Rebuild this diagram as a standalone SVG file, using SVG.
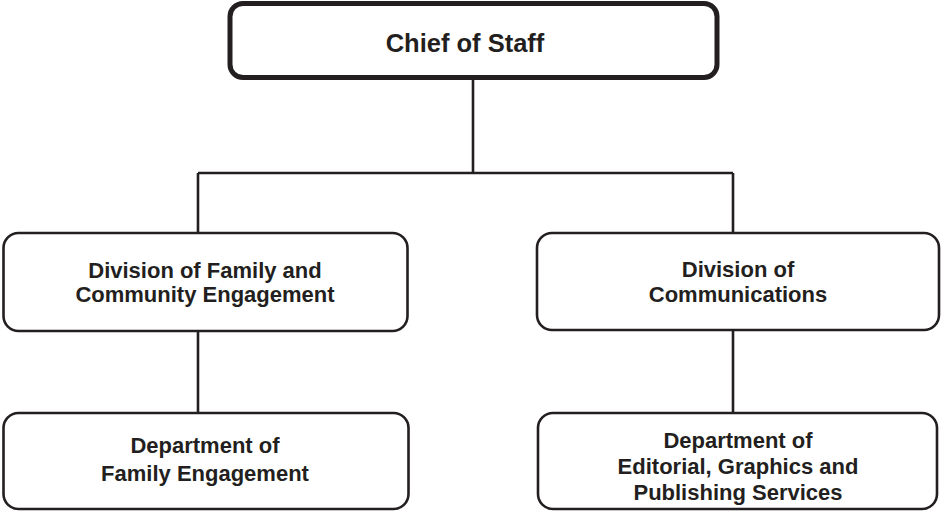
<svg xmlns="http://www.w3.org/2000/svg" width="941" height="511" viewBox="0 0 941 511">
<style>
.box{fill:#fff;stroke:#231f20;stroke-width:2.6}
.top{fill:#fff;stroke:#231f20;stroke-width:5}
.lbl{font-family:"Liberation Sans",Arial,sans-serif;font-weight:bold;font-size:22px;fill:#231f20;text-anchor:middle}
.big{font-size:25.5px}
.conn{fill:none;stroke:#231f20;stroke-width:2.6}
</style>
<rect width="941" height="511" fill="#fff"/>
<g id="connectors">
<path class="conn" d="M473 80V173M198 173H733M198 173V233M733 173V233M198 331V413M733 331V413"/>
</g>
<g id="chief">
<rect class="top" x="230" y="3.5" width="487" height="74" rx="13"/>
<text class="lbl big" x="465" y="52">Chief of Staff</text>
</g>
<g id="div-family">
<rect class="box" x="3.5" y="233" width="404" height="98" rx="15"/>
<text class="lbl" x="205" y="278">Division of Family and</text>
<text class="lbl" x="205" y="302">Community Engagement</text>
</g>
<g id="div-comm">
<rect class="box" x="537" y="233" width="402" height="97" rx="15"/>
<text class="lbl" x="738" y="277">Division of</text>
<text class="lbl" x="738" y="302">Communications</text>
</g>
<g id="dept-family">
<rect class="box" x="3.5" y="413" width="405" height="96" rx="15"/>
<text class="lbl" x="205" y="453">Department of</text>
<text class="lbl" x="205" y="481">Family Engagement</text>
</g>
<g id="dept-editorial">
<rect class="box" x="538" y="413" width="399" height="96" rx="15"/>
<text class="lbl" x="738" y="448">Department of</text>
<text class="lbl" x="738" y="474">Editorial, Graphics and</text>
<text class="lbl" x="738" y="500">Publishing Services</text>
</g>
</svg>
